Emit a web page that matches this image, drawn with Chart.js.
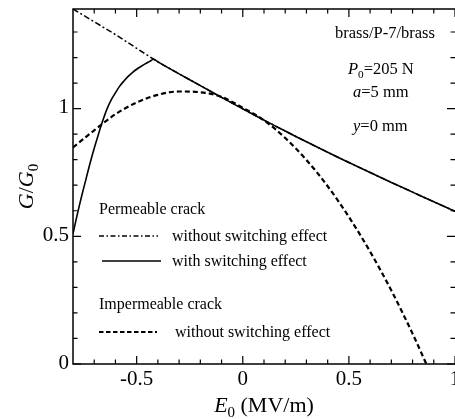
<!DOCTYPE html>
<html>
<head>
<meta charset="utf-8">
<script src="https://cdn.jsdelivr.net/npm/chart.js@4"></script>
<style>
  html, body { margin: 0; padding: 0; background: #fff; }
  #wrap { width: 455px; height: 419px; }
</style>
</head>
<body>
<div id="wrap"><canvas id="chart" width="455" height="419"></canvas></div>
<script>
// Permeable crack, without switching effect (dash-dot)
const permX = [-0.8, -0.7, -0.6, -0.5, -0.4, -0.3, -0.2, -0.1, 0, 0.1, 0.2, 0.3, 0.4, 0.5, 0.6, 0.7, 0.8, 0.9, 1.0];
const permY = [1.39, 1.34, 1.29, 1.236, 1.183, 1.136, 1.09, 1.044, 0.999, 0.955, 0.912, 0.870, 0.829, 0.789, 0.750, 0.711, 0.673, 0.635, 0.598];

// Permeable crack, with switching effect (solid)
const switchX = [-0.8, -0.78, -0.76, -0.74, -0.72, -0.7, -0.68, -0.66, -0.64, -0.62, -0.6, -0.58, -0.56, -0.54, -0.52, -0.5, -0.48, -0.46, -0.44, -0.42,
                 -0.4, -0.38, -0.3, -0.2, -0.1, 0, 0.1, 0.2, 0.3, 0.4, 0.5, 0.6, 0.7, 0.8, 0.9, 1.0];
const switchY = [0.51, 0.585, 0.655, 0.72, 0.785, 0.845, 0.9, 0.952, 0.998, 1.034, 1.062, 1.088, 1.108, 1.126, 1.141, 1.154, 1.165, 1.175, 1.184, 1.193,
                 1.183, 1.173, 1.136, 1.09, 1.044, 0.999, 0.955, 0.912, 0.870, 0.829, 0.789, 0.750, 0.711, 0.673, 0.635, 0.598];

// Impermeable crack, without switching effect (dashed)
const imperX = [-0.8, -0.7, -0.6, -0.5, -0.4, -0.3, -0.2, -0.1, 0, 0.1, 0.2, 0.3, 0.4, 0.5, 0.6, 0.7, 0.8, 0.865];
const imperY = [0.848, 0.915, 0.978, 1.024, 1.054, 1.067, 1.064, 1.046, 1.003, 0.954, 0.885, 0.799, 0.696, 0.576, 0.440, 0.288, 0.119, 0];

// ticks
const xMajor = [-0.5, 0, 0.5, 1];
const xMajorLabels = ['-0.5', '0', '0.5', '1'];
const xMinor = [-0.7, -0.6, -0.4, -0.3, -0.2, -0.1, 0.1, 0.2, 0.3, 0.4, 0.6, 0.7, 0.8, 0.9];
const yMajor = [0, 0.5, 1];
const yMajorLabels = ['0', '0.5', '1'];
const yMinor = [0.1, 0.2, 0.3, 0.4, 0.6, 0.7, 0.8, 0.9, 1.1, 1.2, 1.3];

const FONT = '"Liberation Serif", "Times New Roman", serif';

const pts = (xs, ys) => xs.map((x, i) => ({ x, y: ys[i] }));

// draw text made of pieces (italic / subscript)
function richText(ctx, parts, x, y, size, align) {
  const widths = parts.map(p => {
    ctx.font = `${p.it ? 'italic ' : ''}${p.sub ? size * 0.68 : size}px ${FONT}`;
    return ctx.measureText(p.t).width;
  });
  const total = widths.reduce((a, b) => a + b, 0);
  let cx = align === 'center' ? x - total / 2 : align === 'right' ? x - total : x;
  ctx.textAlign = 'left';
  parts.forEach((p, i) => {
    ctx.font = `${p.it ? 'italic ' : ''}${p.sub ? size * 0.68 : size}px ${FONT}`;
    ctx.fillText(p.t, cx, y + (p.sub ? size * 0.22 : 0));
    cx += widths[i];
  });
}

const frame = {
  id: 'frame',
  afterDraw(chart) {
    const { ctx, chartArea: { left, right, top, bottom }, scales: { x, y } } = chart;
    ctx.save();
    ctx.strokeStyle = '#000';
    ctx.fillStyle = '#000';
    ctx.lineWidth = 1.5;
    ctx.setLineDash([]);
    ctx.beginPath();
    ctx.moveTo(right, bottom); ctx.lineTo(left, bottom); ctx.lineTo(left, top); ctx.lineTo(right, top);
    ctx.stroke();

    // inward ticks on all four sides
    ctx.lineWidth = 1.2;
    ctx.beginPath();
    const xt = (v, len) => {
      const px = x.getPixelForValue(v);
      ctx.moveTo(px, bottom); ctx.lineTo(px, bottom - len);
      ctx.moveTo(px, top); ctx.lineTo(px, top + len);
    };
    const yt = (v, len) => {
      const py = y.getPixelForValue(v);
      ctx.moveTo(left, py); ctx.lineTo(left + len, py);
      ctx.moveTo(right, py); ctx.lineTo(right - len, py);
    };
    xMajor.forEach(v => xt(v, 8));
    xMinor.forEach(v => xt(v, 4.5));
    yMajor.forEach(v => yt(v, 8));
    yMinor.forEach(v => yt(v, 4.5));
    ctx.stroke();

    // tick labels
    ctx.font = `21px ${FONT}`;
    ctx.textAlign = 'center';
    ctx.textBaseline = 'alphabetic';
    xMajor.forEach((v, i) => ctx.fillText(xMajorLabels[i], x.getPixelForValue(v), 385));
    ctx.textAlign = 'right';
    ctx.textBaseline = 'middle';
    yMajor.forEach((v, i) => ctx.fillText(yMajorLabels[i], 69, y.getPixelForValue(v) - 1));

    // axis titles
    ctx.textBaseline = 'alphabetic';
    richText(ctx, [{ t: 'E', it: true }, { t: '0', sub: true }, { t: ' (MV/m)' }], (left + right) / 2, 412, 22, 'center');
    ctx.save();
    ctx.translate(33, (top + bottom) / 2);
    ctx.rotate(-Math.PI / 2);
    richText(ctx, [{ t: 'G', it: true }, { t: '/' }, { t: 'G', it: true }, { t: '0', sub: true }], 0, 0, 22, 'center');
    ctx.restore();

    // parameters, top right
    ctx.font = `16.5px ${FONT}`;
    ctx.textAlign = 'left';
    ctx.fillText('brass/P-7/brass', 335, 38);
    richText(ctx, [{ t: 'P', it: true }, { t: '0', sub: true }, { t: '=205 N' }], 348, 74, 16.5, 'left');
    richText(ctx, [{ t: 'a', it: true }, { t: '=5 mm' }], 353, 97, 16.5, 'left');
    richText(ctx, [{ t: 'y', it: true }, { t: '=0 mm' }], 353, 131, 16.5, 'left');

    // legend
    ctx.font = `16px ${FONT}`;
    ctx.fillText('Permeable crack', 99, 214);
    ctx.fillText('without switching effect', 172, 241);
    ctx.fillText('with switching effect', 172, 266);
    ctx.fillText('Impermeable crack', 99, 309);
    ctx.fillText('without switching effect', 175, 337);
    const sample = (x0, x1, yy, dash, w) => {
      ctx.beginPath();
      ctx.setLineDash(dash);
      ctx.lineWidth = w;
      ctx.moveTo(x0, yy); ctx.lineTo(x1, yy);
      ctx.stroke();
    };
    sample(99, 158, 236, [5, 2.5, 1.5, 2.5], 1.4);
    sample(102, 161, 261, [], 1.6);
    sample(99, 157, 332, [4.5, 2.5], 2.2);
    ctx.restore();
  }
};

new Chart(document.getElementById('chart'), {
  type: 'line',
  data: {
    datasets: [
      {
        label: 'Permeable crack, without switching effect',
        data: pts(permX, permY),
        borderColor: '#000',
        borderWidth: 1.5,
        borderDash: [6, 2.5, 2, 2.5],
        pointRadius: 0,
        tension: 0
      },
      {
        label: 'Permeable crack, with switching effect',
        data: pts(switchX, switchY),
        borderColor: '#000',
        borderWidth: 1.6,
        pointRadius: 0,
        tension: 0.3
      },
      {
        label: 'Impermeable crack, without switching effect',
        data: pts(imperX, imperY),
        borderColor: '#000',
        borderWidth: 2.2,
        borderDash: [5, 3],
        pointRadius: 0,
        cubicInterpolationMode: 'monotone'
      }
    ]
  },
  options: {
    responsive: false,
    animation: false,
    layout: { padding: { left: 73, top: 9, right: 0, bottom: 55 } },
    plugins: { legend: { display: false }, tooltip: { enabled: false } },
    scales: {
      x: { type: 'linear', min: -0.8, max: 1.0, display: false },
      y: { type: 'linear', min: 0, max: 1.39, display: false }
    }
  },
  plugins: [frame]
});
</script>
</body>
</html>
